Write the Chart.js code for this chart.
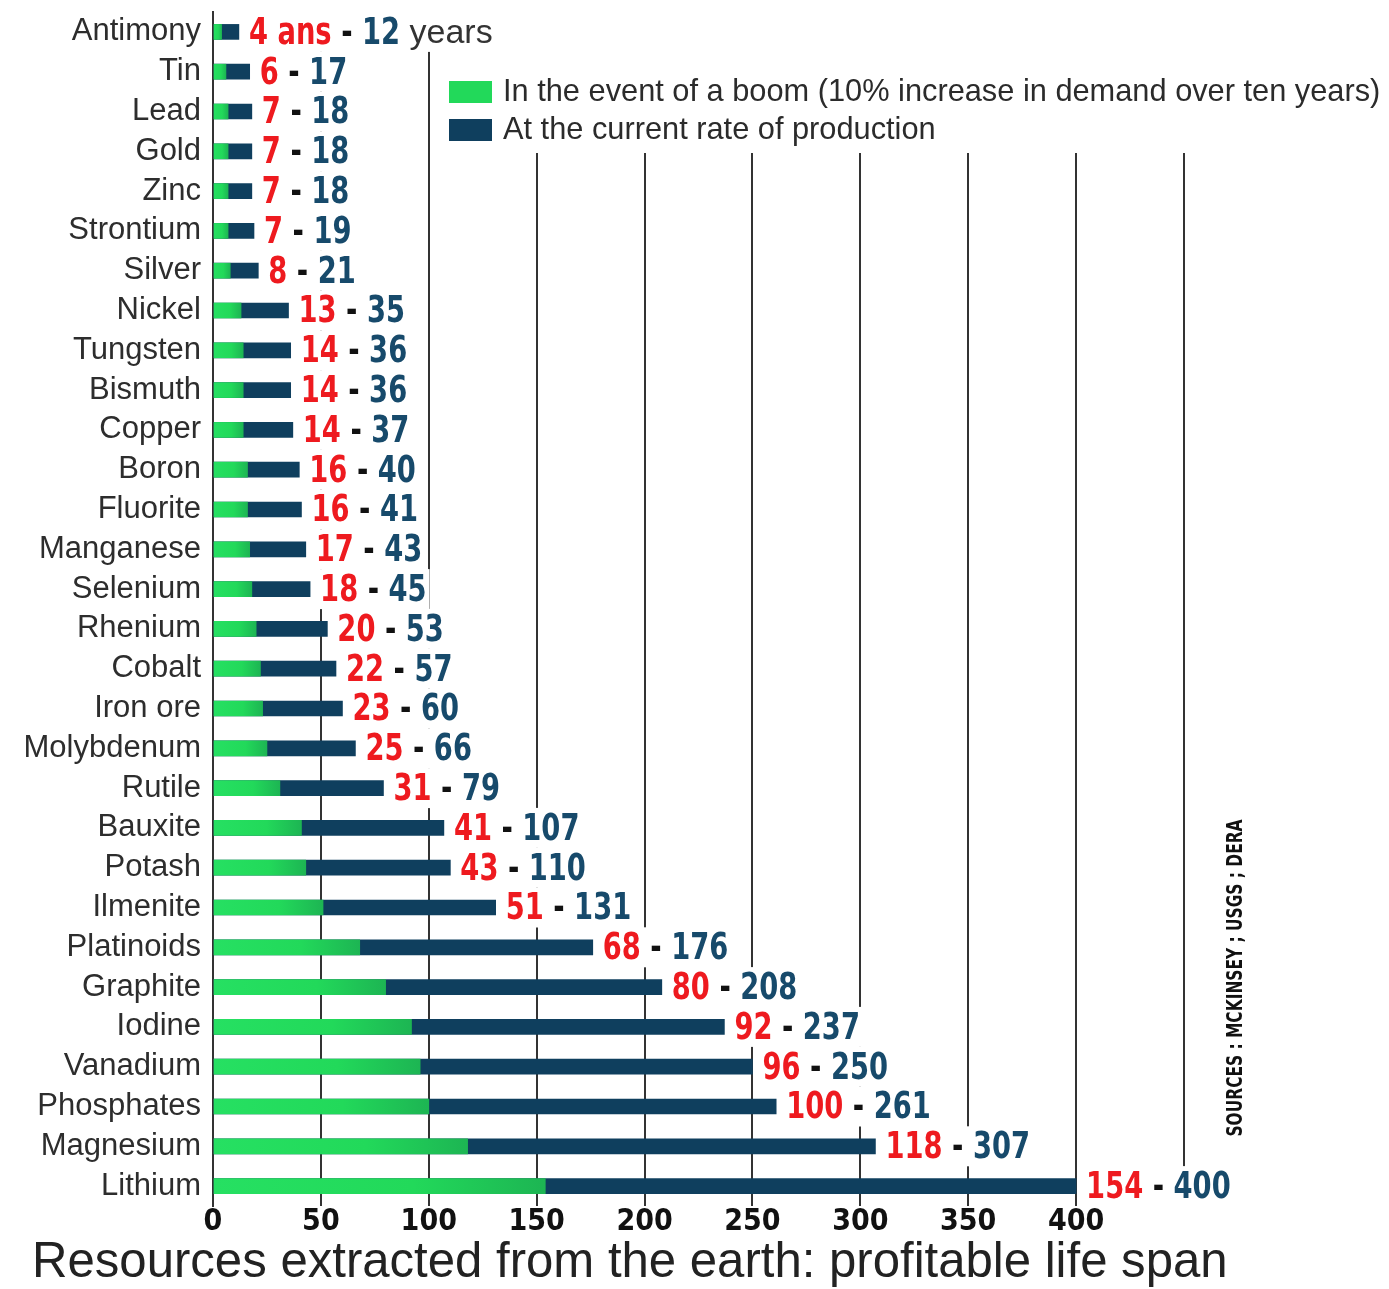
<!DOCTYPE html>
<html><head><meta charset="utf-8">
<script src="https://cdn.jsdelivr.net/npm/chart.js@4/dist/chart.umd.min.js"></script>
<style>html,body{margin:0;padding:0;background:#fff;overflow:hidden}canvas{display:block}</style>
</head><body>
<canvas id="c" width="1389" height="1289" style="width:1389px;height:1289px"></canvas>
<script>
const categories = ["Antimony","Tin","Lead","Gold","Zinc","Strontium","Silver","Nickel","Tungsten","Bismuth","Copper","Boron","Fluorite","Manganese","Selenium","Rhenium","Cobalt","Iron ore","Molybdenum","Rutile","Bauxite","Potash","Ilmenite","Platinoids","Graphite","Iodine","Vanadium","Phosphates","Magnesium","Lithium"];
const boomYears = [4,6,7,7,7,7,8,13,14,14,14,16,16,17,18,20,22,23,25,31,41,43,51,68,80,92,96,100,118,154];
const currentYears = [12,17,18,18,18,19,21,35,36,36,37,40,41,43,45,53,57,60,66,79,107,110,131,176,208,237,250,261,307,400];
const xTickValues = [0,50,100,150,200,250,300,350,400];
const legendLabels = ["In the event of a boom (10% increase in demand over ten years)","At the current rate of production"];
const titleText = "Resources extracted from the earth: profitable life span";
const sourceText = "SOURCES : MCKINSEY ; USGS ; DERA";
const firstUnitBoom = " ans";
const firstUnitCurrent = " years";

const GREEN = '#22d95a', GREEN_DARK = '#1db553', BLUE = '#0f3f5e';
const RED = '#ee1a1f', LBLUE = '#174a6b';
const NARROW = "'Liberation Sans Narrow','DejaVu Sans Condensed',sans-serif";
const SANS = "'Liberation Sans',Arial,sans-serif";

const greenFill = (ctx) => {
  const chart = ctx.chart; const xs = chart.scales.x;
  if (!chart.chartArea || ctx.dataIndex === undefined) return GREEN;
  const x0 = xs.getPixelForValue(0), x1 = xs.getPixelForValue(boomYears[ctx.dataIndex]);
  const g = chart.ctx.createLinearGradient(x0, 0, Math.max(x1, x0 + 1), 0);
  g.addColorStop(0, '#26e062'); g.addColorStop(0.6, GREEN); g.addColorStop(1, GREEN_DARK);
  return g;
};

const legendBox = {
  id: 'legendBox',
  beforeDatasetsDraw(chart) {
    const c = chart.ctx; c.save();
    c.fillStyle = '#fff'; c.fillRect(440, 0, 949, 153);
    const colors = [GREEN, BLUE]; const ys = [92, 130];
    let size = 30; c.font = size + 'px ' + SANS;
    const w = c.measureText(legendLabels[0]).width; size = size * 878 / w;
    c.font = size + 'px ' + SANS; c.textBaseline = 'middle'; c.textAlign = 'left';
    for (let i = 0; i < 2; i++) {
      c.fillStyle = colors[i]; c.fillRect(449, ys[i] - 11, 43, 22);
      c.fillStyle = '#2b2b2b'; c.fillText(legendLabels[i], 503, ys[i] + 1);
    }
    c.restore();
  }
};

const valueLabels = {
  id: 'valueLabels',
  afterDatasetsDraw(chart) {
    const c = chart.ctx, xs = chart.scales.x, ys = chart.scales.y;
    c.save(); c.textBaseline = 'middle'; c.textAlign = 'left';
    const bold = 'bold 38px ' + NARROW;
    const SX = 0.8;
    categories.forEach((cat, i) => {
      const segs = [
        { t: String(boomYears[i]) + (i === 0 ? firstUnitBoom : ''), col: RED },
        { t: ' - ', col: '#111' },
        { t: String(currentYears[i]), col: LBLUE }
      ];
      c.font = bold;
      let total = 0;
      segs.forEach(s => { s.w = c.measureText(s.t).width; total += s.w; });
      let extraW = 0;
      if (i === 0) { c.font = '34px ' + SANS; extraW = c.measureText(firstUnitCurrent).width; }
      const x = xs.getPixelForValue(currentYears[i]) + 10, y = ys.getPixelForValue(i);
      c.fillStyle = '#fff'; c.fillRect(x - 3, y - 20, total * SX + extraW + 6, 40);
      c.save(); c.translate(x, y + 2); c.scale(SX, 1); c.font = bold;
      let cx = 0;
      segs.forEach(s => { c.fillStyle = s.col; c.fillText(s.t, cx, 0); cx += s.w; });
      c.restore();
      if (i === 0) { c.font = '34px ' + SANS; c.fillStyle = '#333'; c.fillText(firstUnitCurrent, x + total * SX, y + 2); }
    });
    c.restore();
  }
};

const extras = {
  id: 'extras',
  afterDraw(chart) {
    const c = chart.ctx; c.save();
    let size = 48; c.font = size + 'px ' + SANS;
    size = size * 1196 / c.measureText(titleText).width;
    c.font = size + 'px ' + SANS; c.fillStyle = '#222'; c.textBaseline = 'alphabetic'; c.textAlign = 'left';
    c.fillText(titleText, 32, 1277);
    c.translate(1237, 978); c.rotate(-Math.PI / 2);
    c.font = 'bold 21px ' + NARROW;
    const sw = c.measureText(sourceText).width;
    c.scale(317 / sw, 1);
    c.textAlign = 'center'; c.textBaseline = 'middle'; c.fillStyle = '#111';
    c.fillText(sourceText, 0, 0);
    c.restore();
  }
};

new Chart(document.getElementById('c'), {
  type: 'bar',
  data: {
    labels: categories,
    datasets: [
      { label: legendLabels[0], data: boomYears, backgroundColor: greenFill, grouped: false, barThickness: 15, borderWidth: 0 },
      { label: legendLabels[1], data: currentYears, backgroundColor: BLUE, grouped: false, barThickness: 15, borderWidth: 0 }
    ]
  },
  options: {
    indexAxis: 'y', responsive: false, animation: false, devicePixelRatio: 1,
    layout: { padding: { top: 12, right: 205, bottom: 43, left: 0 } },
    plugins: { legend: { display: false }, tooltip: { enabled: false }, title: { display: false } },
    scales: {
      x: {
        min: 0, max: 450,
        afterBuildTicks: s => { s.ticks = xTickValues.concat([450]).map(v => ({ value: v })); },
        afterFit: s => { s.height = 40; s.paddingLeft = 0; s.paddingRight = 0; },
        ticks: {
          callback: v => (xTickValues.includes(v) ? String(v) : ''),
          font: { family: NARROW, size: 30, weight: 'bold', lineHeight: 1 }, color: '#111', padding: 1, maxRotation: 0, autoSkip: false
        },
        grid: { color: '#333', lineWidth: 2, drawTicks: false },
        border: { display: false }
      },
      y: {
        afterFit: s => { s.width = 213; s.paddingTop = 0; s.paddingBottom = 0; },
        ticks: { font: { family: SANS, size: 31 }, color: '#2d2d2d', padding: 12, autoSkip: false },
        grid: { display: false, drawTicks: false },
        border: { display: true, color: '#333', width: 2 }
      }
    }
  },
  plugins: [legendBox, valueLabels, extras]
});
</script>
</body></html>
